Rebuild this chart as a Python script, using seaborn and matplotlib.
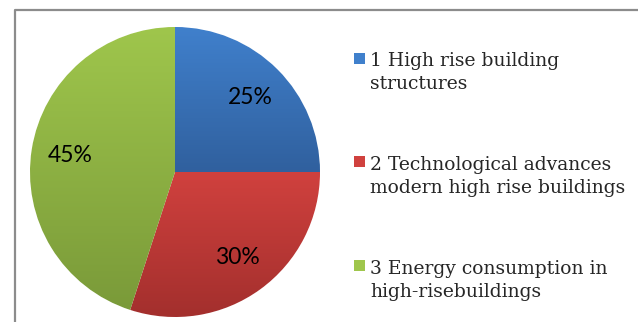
import numpy as np
import matplotlib as mpl
import matplotlib.pyplot as plt
import seaborn as sns
from matplotlib.colors import LinearSegmentedColormap
from matplotlib.patches import Rectangle
from matplotlib.lines import Line2D

labels = ["1 High rise building\nstructures",
          "2 Technological advances\nmodern high rise buildings",
          "3 Energy consumption in\nhigh-risebuildings"]
shares = [25, 30, 45]
top_colors = ["#4080cc", "#d0413e", "#9fc64c"]
bottom_colors = ["#30609e", "#a32f2d", "#7a9a39"]

sns.set_style("white")

W, H = 638, 322
fig = plt.figure(figsize=(W / 100, H / 100), dpi=100)
# pie axes: 290 px square, centred at (175, 172)
ax = fig.add_axes([30 / W, (H - 317) / H, 290 / W, 290 / H])

wedges, texts, autotexts = ax.pie(
    shares, startangle=90, counterclock=False, colors=top_colors,
    autopct="%d%%", pctdistance=0.73, radius=1,
    textprops=dict(fontsize=16.5, family="Lato", color="black"))
ax.set_xlim(-1, 1)
ax.set_ylim(-1, 1)
ax.set_aspect("equal")
ax.axis("off")

# vertical gradient inside each slice
grad = np.linspace(1, 0, 256).reshape(-1, 1)
for w, c0, c1 in zip(wedges, top_colors, bottom_colors):
    bb = w.get_path().get_extents(w.get_patch_transform())
    cmap = LinearSegmentedColormap.from_list("g", [c1, c0])
    im = ax.imshow(grad, cmap=cmap, extent=[bb.x0, bb.x1, bb.y0, bb.y1],
                   aspect="auto", origin="upper", zorder=1, vmin=0, vmax=1)
    im.set_clip_path(w)
    w.set_zorder(0)
for t in autotexts:
    t.set_zorder(5)

# legend drawn by hand so the square sits on the first line
first_baselines = [65, 168, 272]
last_baselines = [89, 193, 297]
for lab, c0, y1, y2 in zip(labels, top_colors, first_baselines, last_baselines):
    fig.add_artist(Rectangle((354 / W, 1 - (y1 - 1) / H), 11 / W, 11 / H,
                             transform=fig.transFigure, color=c0, lw=0))
    fig.text(370 / W, 1 - y2 / H, lab, fontsize=13.5, family="DejaVu Serif",
             va="baseline", ha="left", linespacing=1.38)

# chart border (top and left visible)
fig.add_artist(Line2D([14.5 / W, 14.5 / W, 1], [0, 1 - 9.5 / H, 1 - 9.5 / H],
                      transform=fig.transFigure, color="#8c8c8c", lw=1.6))

fig.savefig("out.png", dpi=100)
